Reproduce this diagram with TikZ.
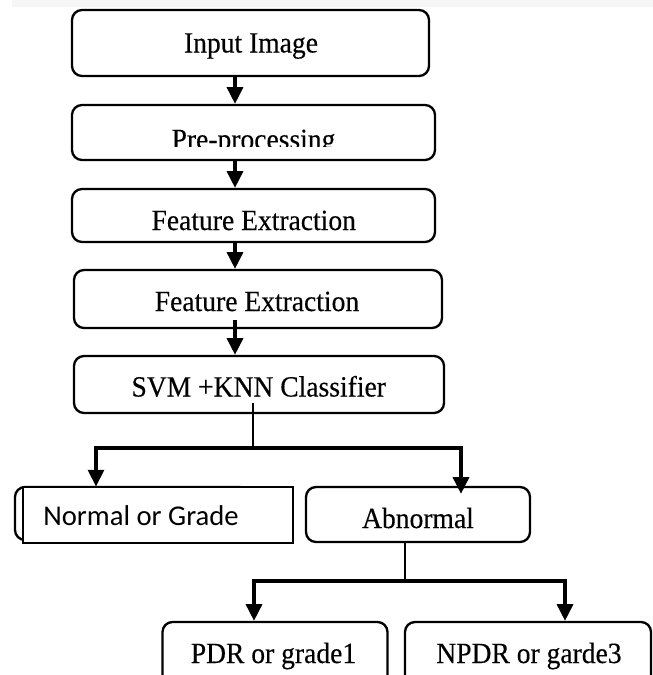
\documentclass[tikz,border=0pt]{standalone}
\usepackage{fontspec}
\usetikzlibrary{arrows.meta,fit}
\newfontfamily\tnrfont[FakeStretch=0.94,FakeBold=0.3]{Liberation Serif}
\newfontfamily\calfont{Carlito}
\definecolor{topband}{HTML}{F6F6F6}
\begin{document}
\begin{tikzpicture}[x=0.75pt,y=-0.75pt,
  box/.style={draw=black,line width=1.75pt,rounded corners=7.5pt,inner sep=0pt},
  sqbox/.style={draw=black,line width=0.8pt,fill=white,inner sep=0pt},
  txt/.style={anchor=base,inner sep=0pt,font=\tnrfont\fontsize{22}{26}\selectfont},
  stxt/.style={anchor=base west,inner sep=0pt,font=\calfont\fontsize{21.5}{25}\selectfont},
  arr/.style={line width=2.4pt,-{Triangle[width=12pt,length=12.5pt]}},
  ln/.style={line width=2.2pt}]
\fill[white] (0,0) rectangle (653,675);
\fill[topband] (12,0) rectangle (653,7);
\useasboundingbox (0,0) rectangle (653,675);
\clip (0,0) rectangle (653,675);
% boxes
\node[box,fit={(72,10) (429,76)}] (b1) {};
\node[box,fit={(72,105) (435,160)}] (b2) {};
\node[box,fit={(72,189) (435,242)}] (b3) {};
\node[box,fit={(74,270) (442,328)}] (b4) {};
\node[box,fit={(74,356) (444,413)}] (b5) {};
\node[box,fit={(15,487) (250,540)}] (nback) {};
\node[sqbox,fit={(23,487) (293,543)}] (nfront) {};
\node[box,fit={(306,487) (530,542)}] (ab) {};
\node[box,fit={(162.5,622) (387.5,688)}] (pdr) {};
\node[box,fit={(405,622) (651,688)}] (npdr) {};
% texts
\node[txt] (t1) at (251,52.5) {Input Image};
\begin{scope}
\clip (0,0) rectangle (653,146);
\node[txt] (t2) at (253.5,149) {Pre-processing};
\end{scope}
\node[txt] (t3) at (253.75,230) {Feature Extraction};
\node[txt] (t4) at (257,311) {Feature Extraction};
\node[txt] (t5) at (258.75,396.5) {SVM +KNN Classifier};
\node[stxt] (t6) at (43,525.5) {Normal or Grade};
\node[txt] (t7) at (418,528) {Abnormal};
\node[txt] (t8) at (273.5,663) {PDR or grade1};
\node[txt] (t9) at (529,663) {NPDR or garde3};
% helper coordinates
\coordinate (ax) at (235,0);
\coordinate (a4) at (235,320);
\coordinate (s1) at (253,403);
\coordinate (j1) at (253,448);
\coordinate (l1) at (96,0);
\coordinate (r1) at (461,0);
\coordinate (m1) at (405,0);
\coordinate (j2) at (405,581);
\coordinate (l2) at (254,0);
\coordinate (r2) at (565,0);
% connectors
\draw[arr] (b1.south -| ax) -- (b2.north -| ax);
\draw[arr] (b2.south -| ax) -- (b3.north -| ax);
\draw[arr] (b3.south -| ax) -- (b4.north -| ax);
\draw[arr] (a4) -- (b5.north -| ax);
\draw[ln] (s1) -- (j1);
\draw[arr] (j1) -| (nfront.north -| l1);
\draw[arr,shorten >=-6pt] (j1) -| (ab.north -| r1);
\draw[ln] (ab.south -| m1) -- (j2);
\draw[arr] (j2) -| (pdr.north -| l2);
\draw[arr] (j2) -| (npdr.north -| r2);
\end{tikzpicture}
\end{document}
